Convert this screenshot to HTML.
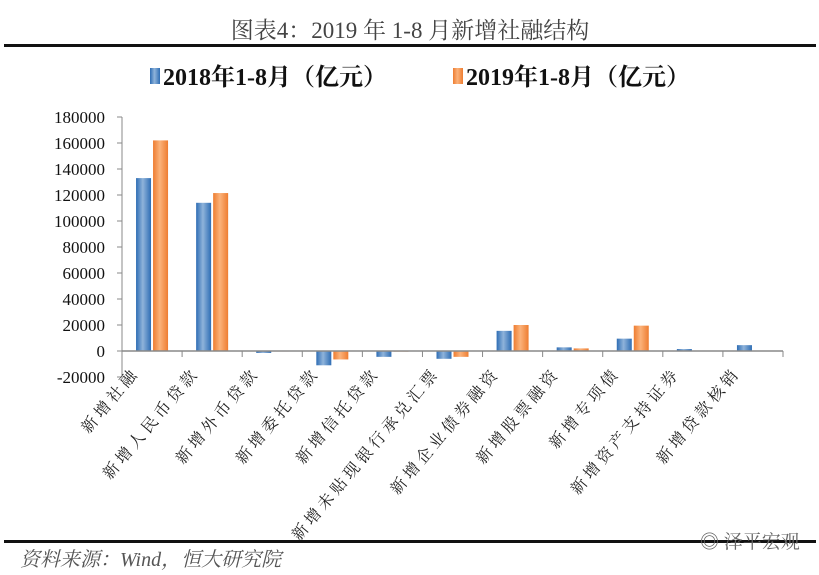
<!DOCTYPE html>
<html><head><meta charset="utf-8">
<style>
body{margin:0;background:#fff;width:819px;height:575px;overflow:hidden}
svg{display:block}
text{font-family:"Liberation Serif","Noto Serif CJK SC",serif}
</style></head>
<body>
<svg width="819" height="575" viewBox="0 0 819 575">
<defs>
<linearGradient id="gb" x1="0" x2="1"><stop offset="0" stop-color="#2e6db4"/><stop offset="0.45" stop-color="#8fb3da"/><stop offset="1" stop-color="#2e6db4"/></linearGradient>
<linearGradient id="go" x1="0" x2="1"><stop offset="0" stop-color="#ee7d31"/><stop offset="0.45" stop-color="#fbb27a"/><stop offset="1" stop-color="#ee7d31"/></linearGradient>
</defs>
<text x="410" y="38" text-anchor="middle" font-size="23" fill="#444">图表4：2019 年 1-8 月新增社融结构</text>
<rect x="4" y="44" width="812" height="3" fill="#111"/>
<g>
<g><rect x="150" y="68" width="10" height="16" fill="url(#gb)"/><text x="163" y="85" font-size="24" font-weight="bold" fill="#111">2018年1-8月（亿元）</text></g>
<g><rect x="453" y="68" width="10" height="16" fill="url(#go)"/><text x="466" y="85" font-size="24" font-weight="bold" fill="#111">2019年1-8月（亿元）</text></g>
</g>
<g id="plot"></g>
<rect x="4" y="540" width="812" height="3" fill="#111"/>
<text x="20" y="566" font-size="20" font-style="italic" fill="#555">资料来源：Wind，恒大研究院</text>
<text x="700" y="548" font-size="19" fill="#666">◎ 泽平宏观</text>
</svg>
<script>
const categories=["新增社融","新增人民币贷款","新增外币贷款","新增委托贷款","新增信托贷款","新增未贴现银行承兑汇票","新增企业债券融资","新增股票融资","新增专项债","新增资产支持证券","新增贷款核销"];
const values2018=[133000,114000,-1500,-11000,-4500,-6000,15500,2800,9500,1500,4500];
const values2019=[162000,121500,-400,-6500,-500,-4500,20000,2000,19500,0,0];
const yTicks=[-20000,0,20000,40000,60000,80000,100000,120000,140000,160000,180000];
const NS="http://www.w3.org/2000/svg";
const g=document.getElementById('plot');
const X0=122,X1=783,Ymin=-20000,Ymax=180000,YT=117,YB=377;
const y=v=>YB-(v-Ymin)/(Ymax-Ymin)*(YB-YT);
const step=(X1-X0)/categories.length;
const x=i=>X0+i*step;
function mk(t,a){const e=document.createElementNS(NS,t);for(const k in a)e.setAttribute(k,a[k]);g.appendChild(e);return e;}
let ax=mk('line',{x1:X0,x2:X0,y1:YT,y2:YB,stroke:'#888'});


yTicks.forEach(v=>{
 let t=mk('line',{x1:X0-5,x2:X0,y1:y(v),y2:y(v),stroke:'#888'});
 
 
 let l=mk('text',{x:X0-17,y:y(v)+6,'text-anchor':'end','font-size':17,fill:'#111'});
 l.textContent=v;
 
 
});
const bw=15;
categories.forEach((c,i)=>{
 const cx=x(i)+step/2;
 [[values2018,'url(#gb)',cx-bw-1,'bar-2018'],[values2019,'url(#go)',cx+1,'bar-2019']].forEach(([arr,f,bx,n])=>{
  const v=arr[i];if(v===0)return;
  const r=mk('rect',{x:bx,y:Math.min(y(v),y(0)),width:bw,height:Math.abs(y(v)-y(0)),fill:f});
  
  
 });
 const t=mk('line',{x1:x(i),x2:x(i),y1:y(0),y2:y(0)+6,stroke:'#888'});
 
 
 const lx=cx-12,ly=y(0)+22;
 const l=mk('text',{x:lx,y:ly,'text-anchor':'end','font-size':16,fill:'#222','letter-spacing':'4',transform:`rotate(-50 ${lx} ${ly})`});
 l.textContent=c;
 
 
});
const t=mk('line',{x1:X1,x2:X1,y1:y(0),y2:y(0)+6,stroke:'#888'});


const xa=mk('line',{x1:X0,x2:X1,y1:y(0),y2:y(0),stroke:'#888','stroke-width':1.5});


</script>
</body></html>
